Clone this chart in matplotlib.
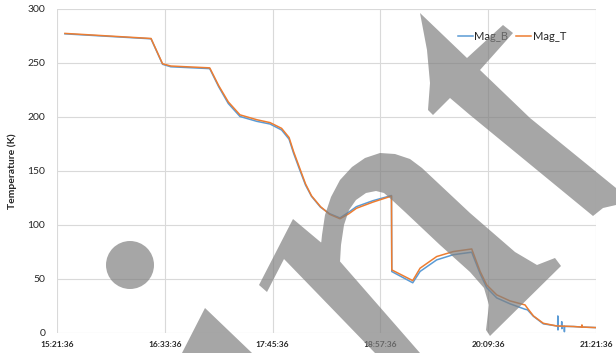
import numpy as np
import matplotlib
matplotlib.use('Agg')
import matplotlib.pyplot as plt
from matplotlib.path import Path
from matplotlib.patches import PathPatch

plt.rcParams['font.family'] = ['Lato', 'DejaVu Sans']

# minutes after 15:21:36
minutes = [5.3, 62.8, 70.5, 76, 102, 108, 114.4, 122.2, 133.4, 142.3, 150, 155, 158, 162,
           166, 170, 176, 182, 189, 195, 200, 211, 223.4, 223.6, 237.6, 242.5, 253.6, 264.7,
           277, 282.6, 287, 293.7, 302.6, 312.6, 314.2, 318.2, 324.8, 333.8,
           334.4, 334.5, 334.6, 334.7, 337.0, 337.1, 337.2, 337.3, 338.8, 338.9, 339.0, 339.1,
           345, 350.5, 350.6, 350.7, 360]

mag_t = [277.4, 272.7, 249.3, 247.2, 245.5, 229, 214, 202, 197.5, 194.8, 189.5, 181, 168, 153,
         138, 127, 117, 110, 105.8, 110.5, 115.5, 121.2, 126.8, 58.4, 48.5, 60, 70.8, 75.4,
         77.8, 57, 44.5, 35.3, 29.7, 26, 23, 15.8, 9, 6.5,
         6.5, 6.5, 6.5, 6.5, 6.4, 6.4, 6.4, 6.4, 6.3, 6.3, 6.3, 6.3,
         6, 5.5, 7.5, 5.5, 5.0]

mag_b = [277, 272.4, 248.8, 246.5, 244.8, 228, 212.5, 200.5, 196, 193.5, 188, 179.5, 166.5, 151.5,
         137, 126.5, 116.5, 110.5, 106.5, 112, 117, 122.5, 127.3, 56.9, 46.5, 57, 67.7, 72.5,
         74.8, 55, 42, 32.5, 27, 22, 21.5, 15.5, 8.5, 6.5,
         6.5, 15.8, 2.8, 6.3, 6.3, 10.5, 4.0, 6.2, 6.2, 1.2, 6.1, 6.1,
         6, 5.5, 5.5, 5.5, 5.0]

tick_labels = ['15:21:36', '16:33:36', '17:45:36', '18:57:36', '20:09:36', '21:21:36']

W, H = 616, 353
fig = plt.figure(figsize=(W / 100, H / 100), dpi=100)
ax = fig.add_axes([57 / W, 1 - 333 / H, 539 / W, 324 / H])

ax.plot(minutes, mag_b, color='#5B9BD5', lw=1.1, label='Mag_B')
ax.plot(minutes, mag_t, color='#ED7D31', lw=1.1, label='Mag_T')

ax.set_xlim(0, 360)
ax.set_ylim(0, 300)
ax.set_xticks(np.arange(0, 361, 72))
ax.set_xticklabels(tick_labels, fontsize=6, fontweight='bold')
ax.set_yticks(np.arange(0, 301, 50))
ax.tick_params(axis='y', length=0, pad=8.5, labelsize=7.5, labelcolor='#262626')
ax.tick_params(axis='x', length=0, pad=5.5, labelcolor='#262626')
ax.grid(True, color='#d9d9d9', lw=0.8)
ax.set_axisbelow(True)
for s in ax.spines.values():
    s.set_visible(False)

ax.set_ylabel('Temperature (K)', fontsize=7.5, fontweight='bold', color='#262626')
ax.yaxis.set_label_coords(-40 / 539, 0.5)

ax.legend(loc='center left', bbox_to_anchor=(0.733, 0.914), ncol=2, frameon=False,
          fontsize=8, handlelength=1.35, handletextpad=0.15, columnspacing=0.7,
          borderpad=0, labelcolor='#262626')

# grey overlay shapes, in pixel coordinates (y down)
shapes = [
    [(205, 308), (182, 353), (252, 353)],
    [(259, 285), (293, 219), (330, 250), (420, 353), (375, 353), (284, 259), (267, 292)],
    [(320, 255), (322, 235), (325, 215), (331, 197), (340, 180), (352, 167), (365, 158),
     (380, 153), (395, 154), (410, 159), (422, 168), (470, 213), (515, 252), (537, 265),
     (555, 258), (561, 266), (490, 336), (486, 330), (489, 305), (484, 288), (470, 272),
     (440, 245), (405, 212), (392, 200), (384, 193), (376, 191), (366, 193), (356, 200),
     (349, 210), (344, 225), (341, 245), (340, 262)],
    [(420, 13), (467, 58), (503, 25), (513, 33), (480, 70), (530, 118), (616, 188),
     (616, 205), (603, 208), (593, 216), (470, 115), (450, 98), (433, 115), (428, 110),
     (430, 83), (427, 50)],
]


def to_fig(pts):
    p = np.array(pts, dtype=float)
    p[:, 0] /= W
    p[:, 1] = 1 - p[:, 1] / H
    x, y = p[:, 0], p[:, 1]
    area = 0.5 * np.sum(x * np.roll(y, -1) - np.roll(x, -1) * y)
    if area < 0:
        p = p[::-1]
    return Path(np.vstack([p, p[:1]]), closed=True)


paths = [to_fig(s) for s in shapes]
circ = Path.circle((130 / W, 1 - 265 / H), 24 / H)
# stretch the circle back to round in pixels
cv = circ.vertices.copy()
cv[:, 0] = 130 / W + (cv[:, 0] - 130 / W) * H / W
paths.append(Path(cv, circ.codes))

overlay = PathPatch(Path.make_compound_path(*paths), transform=fig.transFigure,
                    facecolor='#808080', edgecolor='none', alpha=0.7, zorder=10)
fig.patches.append(overlay)

fig.savefig('out.png', dpi=100)
